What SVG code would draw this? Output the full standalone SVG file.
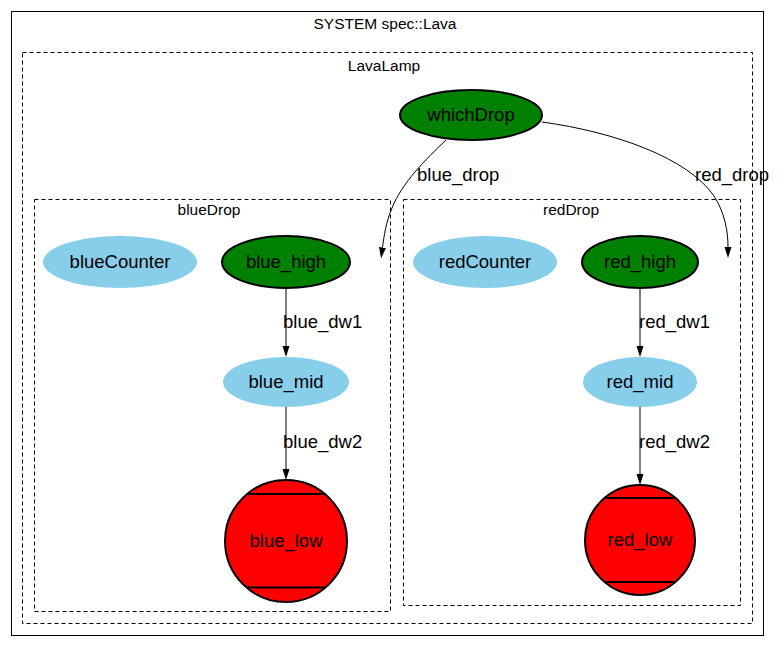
<svg xmlns="http://www.w3.org/2000/svg" width="784" height="647" viewBox="0 0 784 647">
<style>
.cl{font-family:"Liberation Sans",Arial,sans-serif;font-size:15.5px;fill:#000;text-anchor:middle}
.nl{font-family:"Liberation Sans",Arial,sans-serif;font-size:18.5px;fill:#000;text-anchor:middle}
.el{font-family:"Liberation Sans",Arial,sans-serif;font-size:18.5px;fill:#000}
.box{fill:none;stroke:#000;stroke-width:1}
.dash{fill:none;stroke:#000;stroke-width:1;stroke-dasharray:4,3}
.green{fill:#008000;stroke:#000;stroke-width:2}
.sky{fill:#87CEEB;stroke:none}
.red{fill:#FF0000;stroke:#000;stroke-width:2}
.bar{stroke:#000;stroke-width:2}
.edge{fill:none;stroke:#000;stroke-width:1}
</style>
<defs>
<marker id="arr" markerUnits="userSpaceOnUse" markerWidth="12" markerHeight="8" refX="0" refY="4" orient="auto">
<path d="M0,0.5 L11,4 L0,7.5 z" fill="#000"/>
</marker>
</defs>
<rect width="784" height="647" fill="#fff"/>
<g id="system">
<rect class="box" x="11.5" y="11.5" width="752" height="624"/>
<text class="cl" x="385" y="29">SYSTEM spec::Lava</text>
</g>
<g id="LavaLamp">
<rect class="dash" x="22.5" y="52.5" width="730" height="571"/>
<text class="cl" x="384" y="71">LavaLamp</text>
</g>
<g id="blueDrop">
<rect class="dash" x="34.5" y="199.5" width="356" height="412"/>
<text class="cl" x="209" y="215">blueDrop</text>
</g>
<g id="redDrop">
<rect class="dash" x="403.5" y="199.5" width="337" height="406"/>
<text class="cl" x="571" y="215">redDrop</text>
</g>
<g id="connectors">
<path class="edge" d="M446,140 C425,160 402,183 392,208 C386,222 384,236 382.5,247.5" marker-end="url(#arr)"/>
<text class="el" x="417" y="181">blue_drop</text>
<path class="edge" d="M542,122 C615,132 688,158 714,196 C725,213 728,232 728,247" marker-end="url(#arr)"/>
<text class="el" x="695" y="181">red_drop</text>
<path class="edge" d="M286,288 L286,346" marker-end="url(#arr)"/>
<text class="el" x="283" y="328">blue_dw1</text>
<path class="edge" d="M286,407 L286,469" marker-end="url(#arr)"/>
<text class="el" x="283" y="448">blue_dw2</text>
<path class="edge" d="M640,288 L640,346" marker-end="url(#arr)"/>
<text class="el" x="639" y="328">red_dw1</text>
<path class="edge" d="M640,407 L640,474" marker-end="url(#arr)"/>
<text class="el" x="639" y="448">red_dw2</text>
</g>
<g id="whichDrop">
<ellipse class="green" cx="471" cy="115" rx="71" ry="25"/>
<text class="nl" x="471" y="121">whichDrop</text>
</g>
<g id="blueCounter">
<ellipse class="sky" cx="120" cy="262" rx="77" ry="26"/>
<text class="nl" x="120" y="268">blueCounter</text>
</g>
<g id="blue_high">
<ellipse class="green" cx="286" cy="262" rx="64" ry="26"/>
<text class="nl" x="286" y="268">blue_high</text>
</g>
<g id="blue_mid">
<ellipse class="sky" cx="286" cy="382" rx="63" ry="25"/>
<text class="nl" x="286" y="388">blue_mid</text>
</g>
<g id="blue_low">
<circle class="red" cx="286" cy="541" r="61"/>
<line class="bar" x1="247" y1="494" x2="325" y2="494"/>
<line class="bar" x1="247" y1="587.5" x2="325" y2="587.5"/>
<text class="nl" x="286" y="547">blue_low</text>
</g>
<g id="redCounter">
<ellipse class="sky" cx="485" cy="262" rx="72" ry="26"/>
<text class="nl" x="485" y="268">redCounter</text>
</g>
<g id="red_high">
<ellipse class="green" cx="640" cy="262" rx="58" ry="26"/>
<text class="nl" x="640" y="268">red_high</text>
</g>
<g id="red_mid">
<ellipse class="sky" cx="640" cy="382" rx="57" ry="25"/>
<text class="nl" x="640" y="388">red_mid</text>
</g>
<g id="red_low">
<circle class="red" cx="640" cy="540" r="55"/>
<line class="bar" x1="604" y1="498" x2="676" y2="498"/>
<line class="bar" x1="604" y1="582" x2="676" y2="582"/>
<text class="nl" x="640" y="546">red_low</text>
</g>
</svg>
